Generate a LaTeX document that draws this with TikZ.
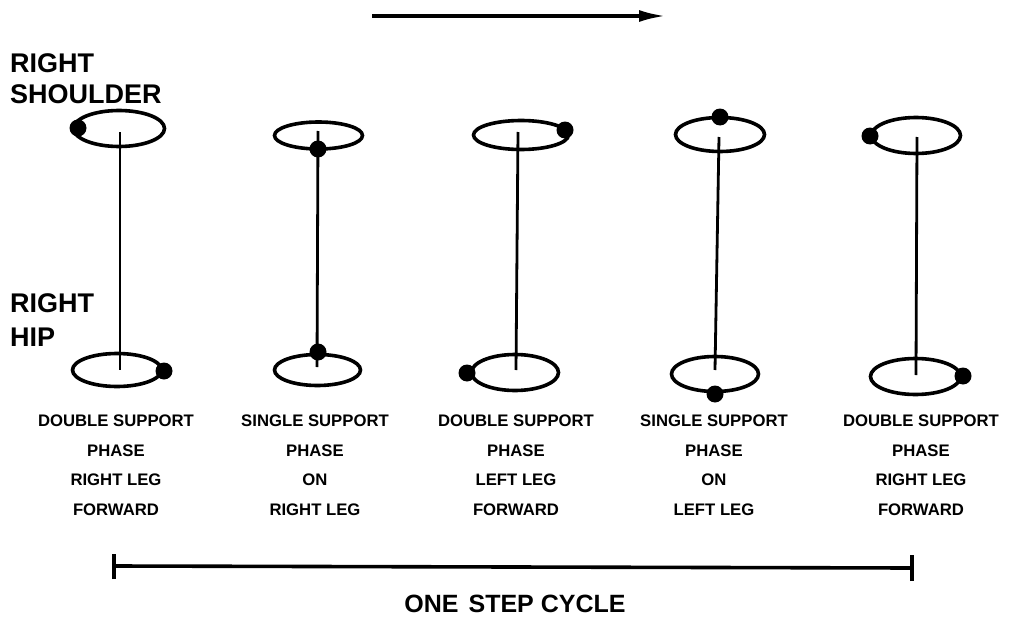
\documentclass[tikz,border=0pt]{standalone}
\usepackage{fontspec}
\setmainfont{Liberation Sans}
\usetikzlibrary{shapes.geometric,arrows.meta}

\begin{document}
\begin{tikzpicture}[x=1pt,y=-1pt,
  ring/.style={draw, ellipse, line width=3.6pt, inner sep=0pt},
  blob/.style={circle, fill=black, inner sep=0pt, minimum size=17pt},
  spine/.style={line width=2.8pt},
  sidelabel/.style={anchor=north west, inner sep=0pt, align=left,
    font=\bfseries\fontsize{27}{#1}\selectfont},
  phase/.style={anchor=north, inner sep=0pt, align=center,
    font=\bfseries\fontsize{16.7}{29.5}\selectfont},
  bar/.style={line width=3.6pt}]

\useasboundingbox (0,0) rectangle (1018,618);

% direction of walking
\coordinate (a0) at (372,16);
\coordinate (a1) at (666,16);
\draw[line width=3.6pt, -{Latex[length=27pt,width=12pt]}] (a0) -- (a1);

% side labels
\node[sidelabel=31] (lshoulder) at (10,53) {RIGHT\\SHOULDER};
\node[sidelabel=34] (lhip) at (10,293) {RIGHT\\HIP};

% shoulder rings
\node[ring, minimum width=91pt, minimum height=36pt] (s1) at (119,128.5) {};
\node[ring, minimum width=88pt, minimum height=27pt] (s2) at (318.5,135.5) {};
\node[ring, minimum width=95pt, minimum height=29pt] (s3) at (521,135) {};
\node[ring, minimum width=89pt, minimum height=34pt] (s4) at (720,134.5) {};
\node[ring, minimum width=89pt, minimum height=36pt] (s5) at (916,135.5) {};

% hip rings
\node[ring, minimum width=89pt, minimum height=33pt] (h1) at (117,370) {};
\node[ring, minimum width=86pt, minimum height=31pt] (h2) at (317.5,370) {};
\node[ring, minimum width=87pt, minimum height=36pt] (h3) at (515,372.5) {};
\node[ring, minimum width=87pt, minimum height=35pt] (h4) at (715,374) {};
\node[ring, minimum width=90pt, minimum height=36pt] (h5) at (915.5,376.5) {};

% trunk lines
\coordinate (t1) at (120,132);  \coordinate (b1) at (120,370);
\coordinate (t2) at (318,131);  \coordinate (b2) at (317,367);
\coordinate (t3) at (518,132);  \coordinate (b3) at (516,370);
\coordinate (t4) at (719,137);  \coordinate (b4) at (715,370);
\coordinate (t5) at (917,137);  \coordinate (b5) at (916,375);
\foreach \i in {1,...,5} \draw[spine] (t\i) -- (b\i);

% position markers of right shoulder and right hip
\node[blob] (ds1) at (78,128) {};
\node[blob] (dh1) at (164,371) {};
\node[blob] (ds2) at (318,149) {};
\node[blob] (dh2) at (318,352) {};
\node[blob] (ds3) at (565,130) {};
\node[blob] (dh3) at (467,373) {};
\node[blob] (ds4) at (720,117) {};
\node[blob] (dh4) at (715,394) {};
\node[blob] (ds5) at (870,136) {};
\node[blob] (dh5) at (963,376) {};

% phase captions
\node[phase] (p1) at (116,415) {DOUBLE SUPPORT\\PHASE\\RIGHT LEG\\FORWARD};
\node[phase] (p2) at (315,415) {SINGLE SUPPORT\\PHASE\\ON\\RIGHT LEG};
\node[phase] (p3) at (516,415) {DOUBLE SUPPORT\\PHASE\\LEFT LEG\\FORWARD};
\node[phase] (p4) at (714,415) {SINGLE SUPPORT\\PHASE\\ON\\LEFT LEG};
\node[phase] (p5) at (921,415) {DOUBLE SUPPORT\\PHASE\\RIGHT LEG\\FORWARD};

% step cycle bar
\coordinate (bl) at (114,566);
\coordinate (br) at (912,568);
\draw[bar] (bl) -- (br);
\draw[bar] ([yshift=-13pt]bl) -- ([yshift=12pt]bl);
\draw[bar] ([yshift=-13pt]br) -- ([yshift=13pt]br);
\node[anchor=north, inner sep=0pt, font=\bfseries\fontsize{25}{30}\selectfont]
  (cycle) at (515,595) {ONE\hspace{0.4em}STEP CYCLE};

\end{tikzpicture}
\end{document}
